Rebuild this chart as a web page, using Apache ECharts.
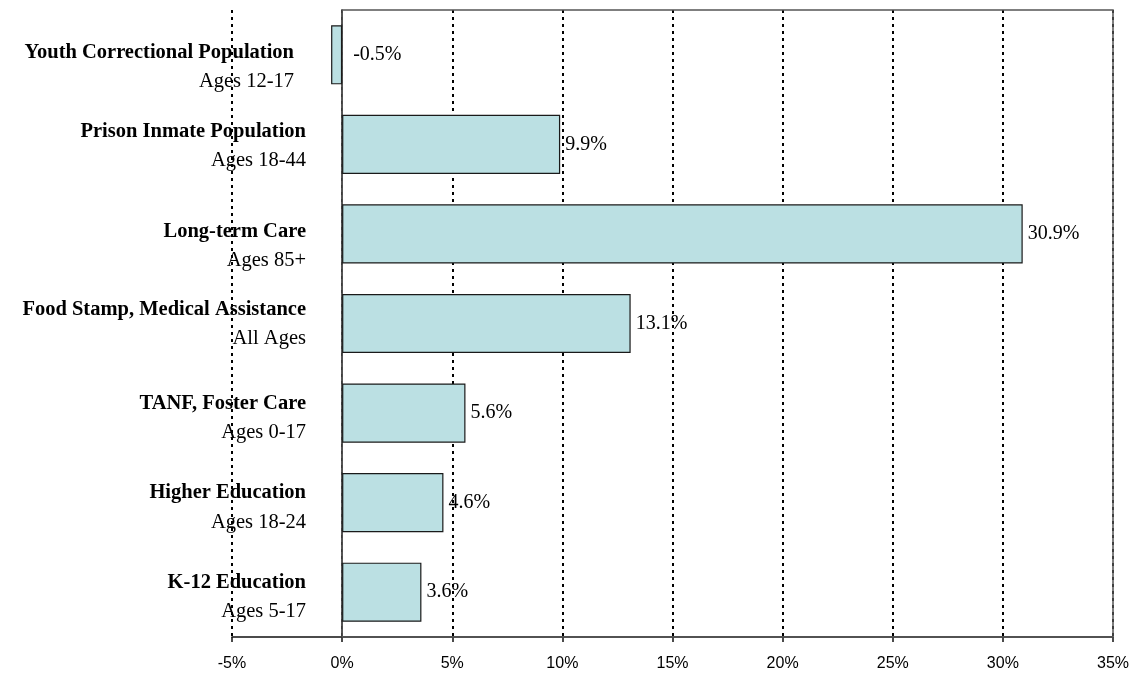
<!DOCTYPE html>
<html>
<head>
<meta charset="utf-8">
<title>Growth by program</title>
<script src="https://cdn.jsdelivr.net/npm/echarts@6/dist/echarts.min.js"></script>
<style>
  html, body { margin: 0; padding: 0; background: #fff; }
  #chart { width: 1135px; height: 673px; }
</style>
</head>
<body>
<div id="chart"></div>
<script>
// Program names (top to bottom), their age groups and percent change
const programs = [
  'Youth Correctional Population',
  'Prison Inmate Population',
  'Long-term Care',
  'Food Stamp, Medical Assistance',
  'TANF, Foster Care',
  'Higher Education',
  'K-12 Education'
];
const ageGroups = [
  'Ages 12-17',
  'Ages 18-44',
  'Ages 85+',
  'All Ages',
  'Ages 0-17',
  'Ages 18-24',
  'Ages 5-17'
];
const changePct = [-0.5, 9.9, 30.9, 13.1, 5.6, 4.6, 3.6];

const axisMin = -5;
const axisMax = 35;
const axisStep = 5;

// Per-row nudges for the two-line category labels [top, right, bottom, left]
const labelPadding = {
  0: [24, 12, 0, 0],
  1: [4, 0, 0, 0],
  2: [24, 0, 0, 0],
  3: [2, 0, 0, 0],
  4: [10, 0, 0, 0],
  5: [10, 0, 0, 0],
  6: [9, 0, 0, 0]
};

const serif = '"Liberation Serif", "Times New Roman", serif';

const categoryData = programs.map((name, i) => {
  const item = { value: name + '\n' + ageGroups[i] };
  if (labelPadding[i]) item.textStyle = { padding: labelPadding[i] };
  return item;
});

const barData = changePct.map(v => {
  const item = { value: v };
  if (v < 0) item.label = { distance: 11 };
  return item;
});

const chart = echarts.init(document.getElementById('chart'), null, { renderer: 'canvas' });

chart.setOption({
  animation: false,
  backgroundColor: '#ffffff',
  grid: {
    left: 232, right: 22, top: 10, bottom: 36,
    containLabel: false,
    outerBoundsMode: 'none'
  },
  xAxis: {
    type: 'value',
    min: axisMin,
    max: axisMax,
    interval: axisStep,
    axisLine: { show: true, onZero: false, lineStyle: { color: '#111', width: 1.5 } },
    axisTick: { show: true, length: 5, lineStyle: { color: '#111', width: 1.5 } },
    axisLabel: {
      formatter: '{value}%',
      color: '#000',
      fontFamily: '"Liberation Sans", Arial, sans-serif',
      fontSize: 16,
      margin: 19
    },
    splitLine: {
      show: true,
      lineStyle: { color: '#000', width: 2, type: [3, 4] }
    }
  },
  yAxis: {
    type: 'category',
    inverse: true,
    data: categoryData,
    axisLine: { show: true, onZero: true, lineStyle: { color: '#222', width: 1.5 } },
    axisTick: { show: false },
    splitLine: { show: false },
    axisLabel: {
      // labels sit just left of the zero line, overlapping the negative range
      margin: -74,
      align: 'right',
      interval: 0,
      formatter: function (val) {
        const parts = val.split('\n');
        return '{n|' + parts[0] + '}\n{a|' + parts[1] + '}';
      },
      rich: {
        n: { fontFamily: serif, fontWeight: 'bold', fontSize: 20.5, lineHeight: 29, color: '#000', align: 'right' },
        a: { fontFamily: serif, fontSize: 20.5, lineHeight: 29, color: '#000', align: 'right' }
      }
    }
  },
  series: [{
    type: 'bar',
    data: barData,
    barWidth: '66%',
    itemStyle: { color: '#BBE0E3', borderColor: '#1a1a1a', borderWidth: 1.2 },
    label: {
      show: true,
      position: 'right',
      distance: 5,
      color: '#000',
      fontFamily: serif,
      fontSize: 20,
      formatter: p => p.value.toFixed(1) + '%'
    },
    markArea: {
      silent: true,
      itemStyle: { color: 'rgba(0,0,0,0)', borderColor: '#555', borderWidth: 1.5 },
      data: [[{ xAxis: 0 }, { xAxis: axisMax }]]
    }
  }]
});
</script>
</body>
</html>
